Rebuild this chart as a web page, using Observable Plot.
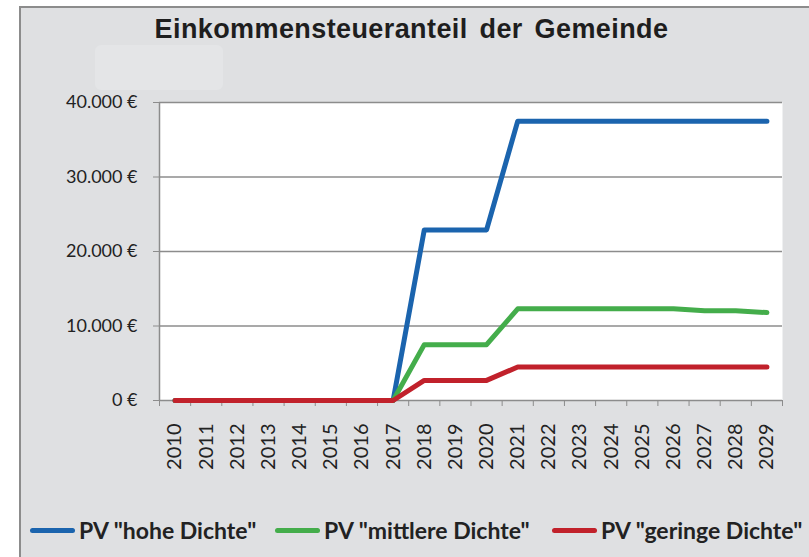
<!DOCTYPE html>
<html><head><meta charset="utf-8">
<script src="https://cdn.jsdelivr.net/npm/d3@7"></script>
<script src="https://cdn.jsdelivr.net/npm/@observablehq/plot@0.6"></script>
<style>
html,body{margin:0;padding:0;background:#fff;}
#page{position:relative;width:809px;height:557px;overflow:hidden;background:#fff;}
#box{position:absolute;left:19px;top:6px;width:820px;height:570px;background:#dfe0e2;border-left:2px solid #8c8c8c;border-top:2px solid #8c8c8c;}
#ghost{position:absolute;left:95px;top:45px;width:128px;height:45px;background:#e4e5e7;border-radius:6px;}
#title{position:absolute;left:0;top:16px;width:823px;text-align:center;font:bold 27px "Liberation Sans",Arial,sans-serif;line-height:27px;color:#1e1e1e;word-spacing:4px;letter-spacing:0.4px;}
#chart{position:absolute;left:0;top:70px;}
.leg{position:absolute;top:516px;height:28px;display:flex;align-items:center;font:bold 23px Lato,sans-serif;color:#222;white-space:nowrap;}
.leg span.sw{display:inline-block;width:45px;height:5px;border-radius:3px;margin-right:4px;}
</style></head>
<body>
<div id="page">
  <div id="box"></div>
  <div id="ghost"></div>
  <div id="title">Einkommensteueranteil der Gemeinde</div>
  <div id="chart"></div>
  <div id="legend"></div>
</div>
<script>
const years = [2010,2011,2012,2013,2014,2015,2016,2017,2018,2019,2020,2021,2022,2023,2024,2025,2026,2027,2028,2029];
const seriesNames = ['PV "hohe Dichte"', 'PV "mittlere Dichte"', 'PV "geringe Dichte"'];
const seriesColors = ["#1b64ae", "#44ad4b", "#c1212b"];
const hoheDichte =     [0,0,0,0,0,0,0,0,22900,22900,22900,37500,37500,37500,37500,37500,37500,37500,37500,37500];
const mittlereDichte = [0,0,0,0,0,0,0,0,7500,7500,7500,12300,12300,12300,12300,12300,12300,12050,12050,11800];
const geringeDichte =  [0,0,0,0,0,0,0,0,2700,2700,2700,4500,4500,4500,4500,4500,4500,4500,4500,4500];
const yTicks = [0,10000,20000,30000,40000];

const seriesValues = [hoheDichte, mittlereDichte, geringeDichte];
const rows = seriesValues.map((vals, s) => years.map((yr, i) => ({year: yr, value: vals[i], series: seriesNames[s]})));
const boundaries = years.map(y => y - 0.5).concat([years[years.length-1] + 0.5]);
const de = d3.formatLocale({decimal: ",", thousands: ".", grouping: [3], currency: ["", " €"]});
const fmt = v => de.format(",")(v) + " €";
const gray = "#8c8c8c";
const txt = "#222";

const plot = Plot.plot({
  width: 809,
  height: 410,
  marginLeft: 159,
  marginRight: 27,
  marginTop: 32,
  marginBottom: 80,
  style: {background: "transparent", overflow: "visible"},
  x: {domain: [boundaries[0], boundaries[boundaries.length-1]]},
  y: {domain: [0, 40000]},
  marks: [
    Plot.frame({fill: "white", stroke: null}),
    Plot.gridY(yTicks, {stroke: gray, strokeOpacity: 1, strokeWidth: 1.5}),
    Plot.ruleX([boundaries[0]], {stroke: gray, strokeWidth: 1.5}),
    Plot.axisY({ticks: yTicks, tickFormat: fmt, tickSize: 6, tickPadding: 16, stroke: gray, fill: txt, fontSize: 18, fontFamily: "Lato", label: null}),
    Plot.axisX({ticks: boundaries, tickFormat: () => "", tickSize: 6, stroke: gray, label: null}),
    Plot.axisX({ticks: years, tickFormat: d => String(d), tickSize: 0, tickPadding: 23, tickRotate: -90, fill: txt, fontSize: 20, fontFamily: "Lato", label: null}),
    ...rows.map((r, s) => Plot.line(r, {x: "year", y: "value", stroke: seriesColors[s], strokeWidth: 5, strokeLinecap: "round", strokeLinejoin: "round"}))
  ]
});
document.getElementById("chart").appendChild(plot);

const legLeft = [30, 275, 552];
const legend = document.getElementById("legend");
seriesNames.forEach((n, i) => {
  const d = document.createElement("div");
  d.className = "leg";
  d.style.left = legLeft[i] + "px";
  const sw = document.createElement("span");
  sw.className = "sw";
  sw.style.background = seriesColors[i];
  d.appendChild(sw);
  d.appendChild(document.createTextNode(n));
  legend.appendChild(d);
});
</script>
</body></html>
